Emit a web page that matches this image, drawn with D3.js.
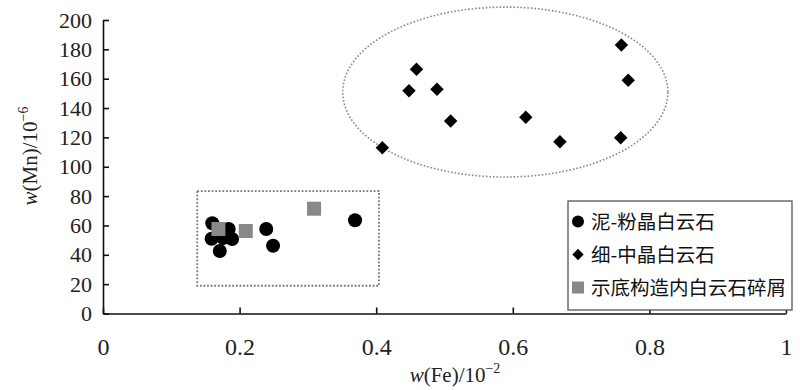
<!DOCTYPE html>
<html>
<head>
<meta charset="utf-8">
<script src="https://cdn.jsdelivr.net/npm/d3@7"></script>
<style>
  body { margin: 0; background: #fff; }
</style>
</head>
<body>
<div id="container"></div>
<script>
// 泥-粉晶白云石
const mudFe = [0.160, 0.159, 0.171, 0.184, 0.189, 0.176, 0.239, 0.249, 0.369];
const mudMn = [61.5, 50.9, 42.6, 57.6, 50.8, 51.4, 57.6, 46.2, 63.5];
// 细-中晶白云石
const fineFe = [0.759, 0.769, 0.459, 0.448, 0.489, 0.509, 0.619, 0.669, 0.758, 0.409];
const fineMn = [183, 159, 166.4, 151.8, 152.8, 131.2, 133.7, 117, 119.8, 113];
// 示底构造内白云石碎屑
const debrisFe = [0.169, 0.209, 0.309];
const debrisMn = [57.6, 56.2, 71.4];

const xTicks = [0, 0.2, 0.4, 0.6, 0.8, 1];
const yTicks = [0, 20, 40, 60, 80, 100, 120, 140, 160, 180, 200];
const legendLabels = ['泥-粉晶白云石', '细-中晶白云石', '示底构造内白云石碎屑'];

const width = 800;
const height = 390;
const margins = { top: 20, bottom: 76.5, left: 103, right: 14 };

const svg = d3.select('#container')
  .append('svg')
  .attr('width', width)
  .attr('height', height)
  .attr('viewBox', [0, 0, width, height]);

const x = d3.scaleLinear([0, 1], [margins.left, width - margins.right]);
const y = d3.scaleLinear([0, 200], [height - margins.bottom, margins.top]);

const serif = '"Liberation Serif", "Times New Roman", serif';

// group outlines
const ell = { cx: 0.589, cy: 150.9, rx: 0.238, ry: 57.9 };
svg.append('ellipse')
  .attr('cx', x(ell.cx))
  .attr('cy', y(ell.cy))
  .attr('rx', x(ell.rx) - x(0))
  .attr('ry', y(0) - y(ell.ry))
  .style('fill', 'none')
  .style('stroke', '#888')
  .style('stroke-width', 1.6)
  .style('stroke-dasharray', '1.6 1.9');

const box = { x0: 0.138, x1: 0.404, y0: 18.9, y1: 83.4 };
svg.append('rect')
  .attr('x', x(box.x0))
  .attr('y', y(box.y1))
  .attr('width', x(box.x1) - x(box.x0))
  .attr('height', y(box.y0) - y(box.y1))
  .style('fill', 'none')
  .style('stroke', '#777')
  .style('stroke-width', 1.8)
  .style('stroke-dasharray', '1.8 1.8');

// axes
const xAxis = svg.append('g')
  .attr('transform', `translate(0,${y(0)})`)
  .call(d3.axisBottom(x).tickValues(xTicks).tickSizeInner(-6).tickSizeOuter(0).tickFormat(d3.format('')));
const yAxis = svg.append('g')
  .attr('transform', `translate(${x(0)},0)`)
  .call(d3.axisLeft(y).tickValues(yTicks).tickSizeInner(-6).tickSizeOuter(0));

[xAxis, yAxis].forEach(g => {
  g.select('.domain').style('stroke', '#111').style('stroke-width', 1.6);
  g.selectAll('.tick line').style('stroke', '#111').style('stroke-width', 1.6);
  g.selectAll('text').style('font-family', serif).style('fill', '#222');
});
xAxis.selectAll('text').style('font-size', '24px').attr('y', 24);
yAxis.selectAll('text').style('font-size', '22px').attr('x', -11);

// points
svg.append('g')
  .selectAll('circle')
  .data(d3.zip(mudFe, mudMn))
  .join('circle')
  .attr('cx', d => x(d[0]))
  .attr('cy', d => y(d[1]))
  .attr('r', 7)
  .style('fill', '#000');

const diamond = d3.symbol(d3.symbolSquare, 90);
svg.append('g')
  .selectAll('path')
  .data(d3.zip(fineFe, fineMn))
  .join('path')
  .attr('d', diamond)
  .attr('transform', d => `translate(${x(d[0])},${y(d[1])}) rotate(45)`)
  .style('fill', '#000');

svg.append('g')
  .selectAll('rect')
  .data(d3.zip(debrisFe, debrisMn))
  .join('rect')
  .attr('x', d => x(d[0]) - 7)
  .attr('y', d => y(d[1]) - 7)
  .attr('width', 14)
  .attr('height', 14)
  .style('fill', '#888');

// axis titles
const xTitle = svg.append('text')
  .attr('x', 455)
  .attr('y', 382)
  .attr('text-anchor', 'middle')
  .style('font-family', serif)
  .style('font-size', '21px')
  .style('fill', '#222');
xTitle.append('tspan').style('font-style', 'italic').text('w');
xTitle.append('tspan').text('(Fe)/10');
xTitle.append('tspan').attr('dy', -9).style('font-size', '14px').text('−2');

const yTitle = svg.append('text')
  .attr('transform', 'translate(37,156) rotate(-90)')
  .attr('text-anchor', 'middle')
  .style('font-family', serif)
  .style('font-size', '21px')
  .style('fill', '#222');
yTitle.append('tspan').style('font-style', 'italic').text('w');
yTitle.append('tspan').text('(Mn)/10');
yTitle.append('tspan').attr('dy', -9).style('font-size', '14px').text('−6');

// legend
const legend = svg.append('g');
legend.append('rect')
  .attr('x', 568)
  .attr('y', 201)
  .attr('width', 224)
  .attr('height', 109)
  .style('fill', '#fff')
  .style('stroke', '#555')
  .style('stroke-width', 1.3);

const items = legend.selectAll('g')
  .data(legendLabels)
  .join('g')
  .attr('transform', (d, i) => `translate(578,${221.5 + i * 33})`);

items.each(function (d, i) {
  const g = d3.select(this);
  if (i === 0) g.append('circle').attr('r', 6).style('fill', '#000');
  if (i === 1) g.append('path').attr('d', d3.symbol(d3.symbolSquare, 64)).attr('transform', 'rotate(45)').style('fill', '#000');
  if (i === 2) g.append('rect').attr('x', -6).attr('y', -6).attr('width', 12).attr('height', 12).style('fill', '#888');
});

items.append('text')
  .attr('x', 13)
  .attr('dy', '0.36em')
  .style('font-family', '"Noto Sans CJK SC", sans-serif')
  .style('font-size', '19.5px')
  .style('fill', '#111')
  .text(d => d);
</script>
</body>
</html>
